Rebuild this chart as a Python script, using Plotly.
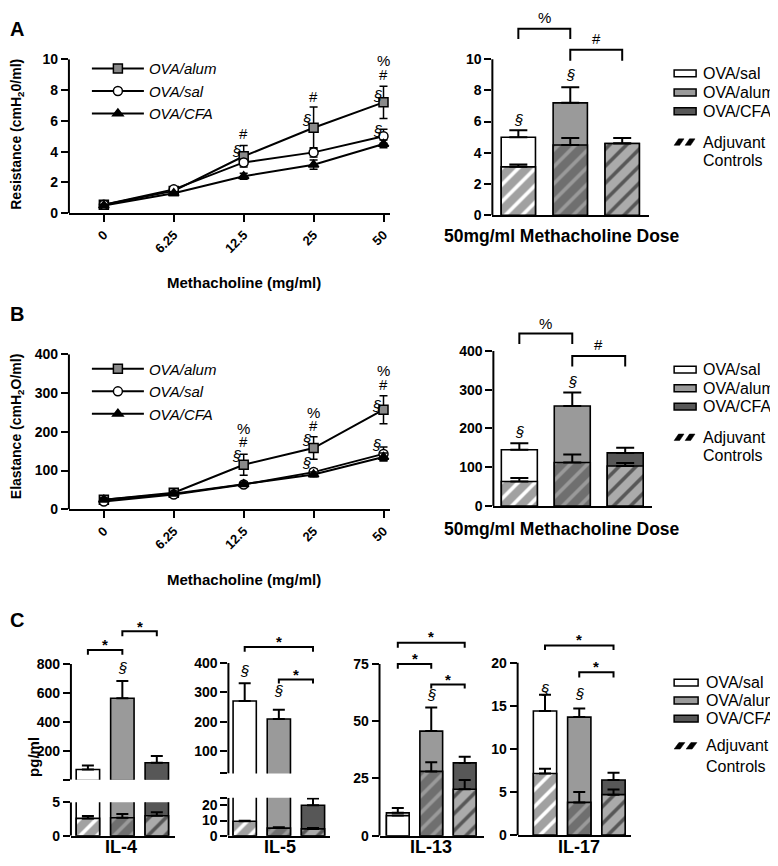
import plotly.graph_objects as go

# The page body keeps the browser's default 8px margin, so the figure sits 8px
# in from the top-left of the 778x866 window; positions below are window pixels.
PAGE_W, PAGE_H = 778, 866
OFF = 8
W, H = PAGE_W - OFF, PAGE_H - OFF
FONT = "Liberation Sans, Arial, Helvetica, sans-serif"

# ------------------------------------------------------------------ data
doses = ["0", "6.25", "12.5", "25", "50"]
groups = ["OVA/sal", "OVA/alum", "OVA/CFA"]
group_colors = ["#ffffff", "#9a9a9a", "#575757"]
cytokines = ["IL-4", "IL-5", "IL-13", "IL-17"]

# Panel A: airway resistance dose-response
res_alum = [0.55, 1.45, 3.7, 5.55, 7.2]
res_alum_err = [0.1, 0.1, 0.7, 1.35, 1.05]
res_sal = [0.55, 1.55, 3.3, 3.95, 5.0]
res_sal_err = [0.1, 0.1, 0.2, 0.3, 0.45]
res_cfa = [0.5, 1.3, 2.4, 3.15, 4.5]
res_cfa_err = [0.08, 0.1, 0.2, 0.3, 0.25]

# Panel A: 50 mg/ml dose (OVA groups vs adjuvant controls)
res50_total = [5.0, 7.2, 4.6]
res50_total_err = [0.45, 1.0, 0.35]
res50_adj = [3.1, 4.5, 4.6]
res50_adj_err = [0.15, 0.45, 0.0]

# Panel B: elastance dose-response
ela_alum = [25, 43, 115, 158, 257]
ela_alum_err = [5, 4, 27, 29, 36]
ela_sal = [20, 38, 64, 96, 143]
ela_sal_err = [3, 3, 5, 8, 18]
ela_cfa = [25, 40, 65, 90, 135]
ela_cfa_err = [4, 4, 5, 6, 10]

ela50_total = [145, 258, 137]
ela50_total_err = [17, 35, 13]
ela50_adj = [63, 112, 103]
ela50_adj_err = [9, 21, 8]

# Panel C: cytokines (pg/ml)
il4_total = [75, 565, 122]
il4_total_err = [28, 118, 46]
il4_adj = [2.6, 2.7, 3.0]
il4_adj_err = [0.35, 0.55, 0.5]

il5_total = [271, 210, 20]
il5_total_err = [60, 31, 4.5]
il5_adj = [9.5, 5.0, 4.5]
il5_adj_err = [0.4, 0.6, 0.6]

il13_total = [10, 45.7, 31.8]
il13_total_err = [2.1, 10.3, 2.7]
il13_adj = [8.8, 28.1, 20.3]
il13_adj_err = [0.0, 4.0, 4.0]

il17_total = [14.4, 13.7, 6.4]
il17_total_err = [1.9, 1.0, 0.85]
il17_adj = [7.15, 3.8, 4.7]
il17_adj_err = [0.55, 1.2, 0.6]

# significance labels (x index, y in data units, text, x shift px)
sig_lineA = [(2, 5.16, "#", 0), (2, 4.08, "§", -7),
             (3, 7.58, "#", 0), (3, 6.1, "§", -7),
             (4, 9.94, "%", 0), (4, 8.98, "#", 0), (4, 7.64, "§", -6), (4, 5.35, "§", -6)]
sig_lineB = [(2, 209, "%", 0), (2, 175, "#", 0), (2, 138, "§", -7),
             (3, 251, "%", 0), (3, 217, "#", 0), (3, 181, "§", -7), (3, 120, "§", -7),
             (4, 358, "%", 0), (4, 322, "#", 0), (4, 269, "§", -7), (4, 168, "§", -7)]
# brackets: (x0, x1, top, leg end, text, text y)
brk_barA = [(0, 1, 11.95, 11.3, "%", 12.7), (1, 2, 10.6, 9.9, "#", 11.3)]
brk_barB = [(0, 1, 445, 418, "%", 470), (1, 2, 387, 360, "#", 417)]
brk_il4 = [(0, 1, 897, 863, "*", 957), (1, 2, 1025, 991, "*", 1079)]
brk_il5 = [(0, 2, 454, 438, "*", 482), (1, 2, 344, 330, "*", 371)]
brk_il13 = [(0, 2, 84.3, 82.1, "*", 88.4), (0, 1, 75, 72.9, "*", 78.6), (1, 2, 66.1, 64.3, "*", 69.7)]
brk_il17 = [(0, 2, 22.0, 21.5, "*", 23.1), (1, 2, 18.9, 18.3, "*", 19.9)]
sec_barA = [(0, 6.16), (1, 9.0)]
sec_barB = [(0, 191), (1, 322)]
sec_il4 = [(1, 775)]
sec_il5 = [(0, 374), (1, 308)]
sec_il13 = [(1, 61.7)]
sec_il17 = [(0, 16.9), (1, 16.4)]

# ------------------------------------------------------------------ helpers
fig = go.Figure()
shapes = []
annots = []


def px_x(p):
    return (p - OFF) / W


def px_y(p):
    return 1 - (p - OFF) / H


def xid(n):
    return "x" if n == 1 else f"x{n}"


def yid(n):
    return "y" if n == 1 else f"y{n}"


def xgeom(left_px, right_px, c0_px, step_px):
    return ([px_x(left_px), px_x(right_px)],
            [(left_px - c0_px) / step_px, (right_px - c0_px) / step_px])


def ygeom(zero_px, ppu, lo, hi):
    bottom = zero_px - lo * ppu
    top = max(zero_px - hi * ppu, OFF)
    hi = (zero_px - top) / ppu
    return [max(0.0, px_y(bottom)), min(1.0, px_y(top))], [lo, hi]


def font(size, bold=False, italic=False):
    d = dict(family=FONT, size=size, color="black")
    if bold:
        d["weight"] = "bold"
    if italic:
        d["style"] = "italic"
    return d


axes_layout = {}
axis_floor = {}


def make_axes(n, xg, yg, yticks, yline, xshowline=True, xticks=None, ytext=None):
    xd, xr = xgeom(*xg)
    yd, yr = ygeom(*yg)
    axis_floor[n] = yr[0]
    xa = dict(domain=xd, range=xr, anchor=yid(n), showgrid=False, zeroline=False,
              showline=xshowline, linecolor="black", linewidth=2, fixedrange=True)
    if xticks is None:
        xa.update(showticklabels=False, ticks="")
    else:
        xa.update(tickmode="array", tickvals=list(range(len(xticks))), ticktext=xticks,
                  ticks="outside", ticklen=7, tickwidth=2, tickcolor="black",
                  tickangle=-45, tickfont=font(13, bold=True))
    ya = dict(domain=yd, range=yr, anchor=xid(n), showgrid=False, zeroline=False,
              showline=False, tickmode="array", tickvals=yticks,
              ticktext=ytext if ytext is not None else [str(v) for v in yticks],
              ticks="outside", ticklen=7, tickwidth=2, tickcolor="black",
              tickfont=font(14, bold=True), fixedrange=True)
    axes_layout["xaxis" if n == 1 else f"xaxis{n}"] = xa
    axes_layout["yaxis" if n == 1 else f"yaxis{n}"] = ya
    shapes.append(dict(type="line", xref=f"{xid(n)} domain", yref=yid(n), x0=0, x1=0,
                       y0=yline[0], y1=yline[1], line=dict(color="black", width=2)))


def add_lines(n, series, legend):
    styles = {
        "OVA/alum": dict(symbol="square", color="#8a8a8a", size=9),
        "OVA/sal": dict(symbol="circle", color="white", size=9),
        "OVA/CFA": dict(symbol="triangle-up", color="black", size=9),
    }
    for name, vals, errs in series:
        st = styles[name]
        fig.add_trace(go.Scatter(
            x=list(range(len(doses))), y=vals, name=name, mode="lines+markers",
            line=dict(color="black", width=2),
            marker=dict(symbol=st["symbol"], size=st["size"], color=st["color"],
                        line=dict(color="black", width=1.5)),
            error_y=dict(type="data", array=errs, color="black", thickness=1.5, width=4),
            xaxis=xid(n), yaxis=yid(n), legend=legend, cliponaxis=False))


def add_bars(n, total, total_err, adj=None, adj_err=None, width=0.68, cap=6,
             pattern_shapes="/"):
    xs = [0, 1, 2]
    floor = axis_floor[n]
    # on the upper part of a broken axis only bars that reach past the break are drawn
    shown_total = [v if v > floor else None for v in total]
    fig.add_trace(go.Bar(
        x=xs, y=shown_total, width=width, name="OVA groups", showlegend=False,
        marker=dict(color=group_colors, line=dict(color="black", width=1.6)),
        error_y=dict(type="data", symmetric=False, array=total_err, arrayminus=[0, 0, 0],
                     color="black", thickness=2, width=cap),
        xaxis=xid(n), yaxis=yid(n), hovertext=groups))
    if adj is None:
        return
    fig.add_trace(go.Bar(
        x=xs, y=adj, width=width, name="Adjuvant Controls", showlegend=False,
        marker=dict(color=group_colors, line=dict(color="black", width=1.6),
                    pattern=dict(shape=pattern_shapes, fgcolor="black", bgcolor=group_colors,
                                 size=12, solidity=0.7)),
        error_y=dict(type="data", symmetric=False, array=adj_err, arrayminus=[0, 0, 0],
                     color="black", thickness=2, width=cap),
        xaxis=xid(n), yaxis=yid(n), hovertext=groups))


def add_brackets(n, brks, text_size=15, star_shift=0):
    for x0, x1, top, leg, txt, ty in brks:
        shapes.append(dict(type="path", xref=xid(n), yref=yid(n),
                           path=f"M{x0},{leg} L{x0},{top} L{x1},{top} L{x1},{leg}",
                           line=dict(color="black", width=2)))
        annots.append(dict(x=(x0 + x1) / 2, y=ty, xref=xid(n), yref=yid(n), text=txt,
                           showarrow=False, font=font(text_size, bold=(txt == "*")),
                           yshift=star_shift if txt == "*" else 0))


def add_sig(n, marks, size=15):
    for xi, yv, txt, dx in marks:
        annots.append(dict(x=xi, y=yv, xref=xid(n), yref=yid(n), text=txt, showarrow=False,
                           xshift=dx, font=font(size, italic=(txt == "§"))))


def add_sec(n, marks, size=15):
    for xi, yv in marks:
        annots.append(dict(x=xi, y=yv, xref=xid(n), yref=yid(n), text="§", showarrow=False,
                           font=font(size, italic=True)))


def paper_text(xp, yp, text, size, bold=False, angle=0, xanchor="center", italic=False,
               yanchor="middle"):
    annots.append(dict(x=px_x(xp), y=px_y(yp), xref="paper", yref="paper", text=text,
                       showarrow=False, textangle=angle, xanchor=xanchor, yanchor=yanchor,
                       font=font(size, bold=bold, italic=italic)))


def bar_legend(box_x0, box_x1, text_x, rows, adj_y, ctrl_y, box_h=7):
    for (yc, col, label) in zip(rows, group_colors, groups):
        shapes.append(dict(type="rect", xref="paper", yref="paper",
                           x0=px_x(box_x0), x1=px_x(box_x1),
                           y0=px_y(yc + box_h / 2), y1=px_y(yc - box_h / 2),
                           fillcolor=col, line=dict(color="black", width=1.5)))
        paper_text(text_x, yc, label, 16, xanchor="left")
    # hatch symbol: two slanted bars
    bw = (box_x1 - box_x0)
    for k in range(2):
        x0 = box_x0 + k * bw * 0.5
        yb, yt = adj_y + 3.3, adj_y - 3.3
        pts = [(x0, yb), (x0 + bw * 0.2, yt), (x0 + bw * 0.45, yt), (x0 + bw * 0.25, yb)]
        path = "M" + " L".join(f"{px_x(px)},{px_y(py)}" for px, py in pts) + " Z"
        shapes.append(dict(type="path", xref="paper", yref="paper", path=path,
                           fillcolor="black", line=dict(color="black", width=0.5)))
    paper_text(text_x, adj_y, "Adjuvant", 16, xanchor="left")
    paper_text(text_x, ctrl_y, "Controls", 16, xanchor="left")


# ------------------------------------------------------------------ panel A
make_axes(1, (69, 390, 104, 70), (209, 15.7, 0, 10), [0, 2, 4, 6, 8, 10], (0, 10),
          xticks=doses)
add_lines(1, [("OVA/alum", res_alum, res_alum_err), ("OVA/sal", res_sal, res_sal_err),
              ("OVA/CFA", res_cfa, res_cfa_err)], "legend")
add_sig(1, sig_lineA)

make_axes(2, (493, 650, 519, 52), (211, 15.9, 0, 13.2), [0, 2, 4, 6, 8, 10], (0, 10))
add_bars(2, res50_total, res50_total_err, res50_adj, res50_adj_err, 0.66, 9)
add_brackets(2, brk_barA)
add_sec(2, sec_barA)

# ------------------------------------------------------------------ panel B
make_axes(3, (69, 390, 104, 70), (510.7, 0.395, 0, 400), [0, 100, 200, 300, 400], (0, 400),
          xticks=doses)
add_lines(3, [("OVA/alum", ela_alum, ela_alum_err), ("OVA/sal", ela_sal, ela_sal_err),
              ("OVA/CFA", ela_cfa, ela_cfa_err)], "legend2")
add_sig(3, sig_lineB)

make_axes(4, (494, 653, 520, 53), (507.3, 0.395, 0, 500), [0, 100, 200, 300, 400], (0, 400))
add_bars(4, ela50_total, ela50_total_err, ela50_adj, ela50_adj_err, 0.68, 9)
add_brackets(4, brk_barB)
add_sec(4, sec_barB)

# ------------------------------------------------------------------ panel C
# IL-4 (broken axis: upper segment shows only the OVA totals above the break)
make_axes(5, (71, 175, 88, 34.5), (787, 0.1483, 5, 1120), [5, 200, 400, 600, 800], (5, 800),
          xshowline=False, ytext=["", "200", "400", "600", "800"])
add_bars(5, il4_total, il4_total_err)
add_brackets(5, brk_il4, star_shift=-3)
add_sec(5, sec_il4)
make_axes(6, (71, 175, 88, 34.5), (843.3, 6.8, 0, 5), [0, 5], (0, 5))
add_bars(6, il4_total, il4_total_err, il4_adj, il4_adj_err)

# IL-5 (broken axis)
make_axes(7, (228.7, 330, 245, 34.2), (787.3, 0.3, 25, 500), [25, 100, 200, 300, 400], (25, 400),
          xshowline=False, ytext=["", "100", "200", "300", "400"])
add_bars(7, il5_total, il5_total_err)
add_brackets(7, brk_il5, star_shift=-3)
add_sec(7, sec_il5)
make_axes(8, (228.7, 330, 245, 34.2), (843.3, 1.55, 0, 25), [0, 10, 20, 25], (0, 25),
          ytext=["0", "10", "20", ""])
add_bars(8, il5_total, il5_total_err, il5_adj, il5_adj_err)

# IL-13
make_axes(9, (380, 485, 398.3, 33.5), (843.3, 2.333, 0, 92), [0, 25, 50, 75], (0, 75))
add_bars(9, il13_total, il13_total_err, il13_adj, il13_adj_err,
         pattern_shapes=["", "/", "/"])
add_brackets(9, brk_il13, star_shift=-3)
add_sec(9, sec_il13)

# IL-17
make_axes(10, (518.3, 631.7, 545.7, 34.3), (842.7, 8.78, 0, 24), [0, 5, 10, 15, 20], (0, 20))
add_bars(10, il17_total, il17_total_err, il17_adj, il17_adj_err)
add_brackets(10, brk_il17, star_shift=-3)
add_sec(10, sec_il17)

# ------------------------------------------------------------------ texts
paper_text(8, 8, "A", 20, bold=True, xanchor="left", yanchor="top")
paper_text(8, 312, "B", 20, bold=True, xanchor="left")
paper_text(8, 623, "C", 20, bold=True, xanchor="left")

paper_text(17, 128, "Resistance (cmH<sub>2</sub>0/ml)", 14, bold=True, angle=-90)
paper_text(244, 280, "Methacholine (mg/ml)", 15, bold=True)
paper_text(563, 232, "50mg/ml Methacholine Dose", 17.5, bold=True)

paper_text(17, 426, "Elastance (cmH<sub>2</sub>O/ml)", 14, bold=True, angle=-90)
paper_text(244, 582, "Methacholine (mg/ml)", 15, bold=True)
paper_text(563, 531, "50mg/ml Methacholine Dose", 17.5, bold=True)

paper_text(34, 763, "pg/ml", 15, bold=True, angle=-90)
for label, xc in zip(cytokines, [121, 280, 432, 580]):
    paper_text(xc, 855, label, 18, bold=True)

bar_legend(675, 697, 702, [66.5, 86, 105], 136.5, 155)
bar_legend(675, 697, 702, [368.3, 387.3, 406], 437.3, 456)
bar_legend(675, 699, 705, [687.3, 705.5, 724], 751.7, 772.3)

leg_common = dict(xanchor="left", yanchor="top", bgcolor="rgba(0,0,0,0)",
                  font=font(15, italic=True), itemwidth=52, tracegroupgap=0)
fig.update_layout(
    width=W, height=H, margin=dict(l=0, r=0, t=0, b=0),
    paper_bgcolor="white", plot_bgcolor="white", barmode="overlay",
    showlegend=True,
    legend=dict(x=px_x(87), y=px_y(45), **leg_common),
    legend2=dict(x=px_x(87), y=px_y(351), **leg_common),
    shapes=shapes, annotations=annots, **axes_layout)

fig.write_html("out.html")
